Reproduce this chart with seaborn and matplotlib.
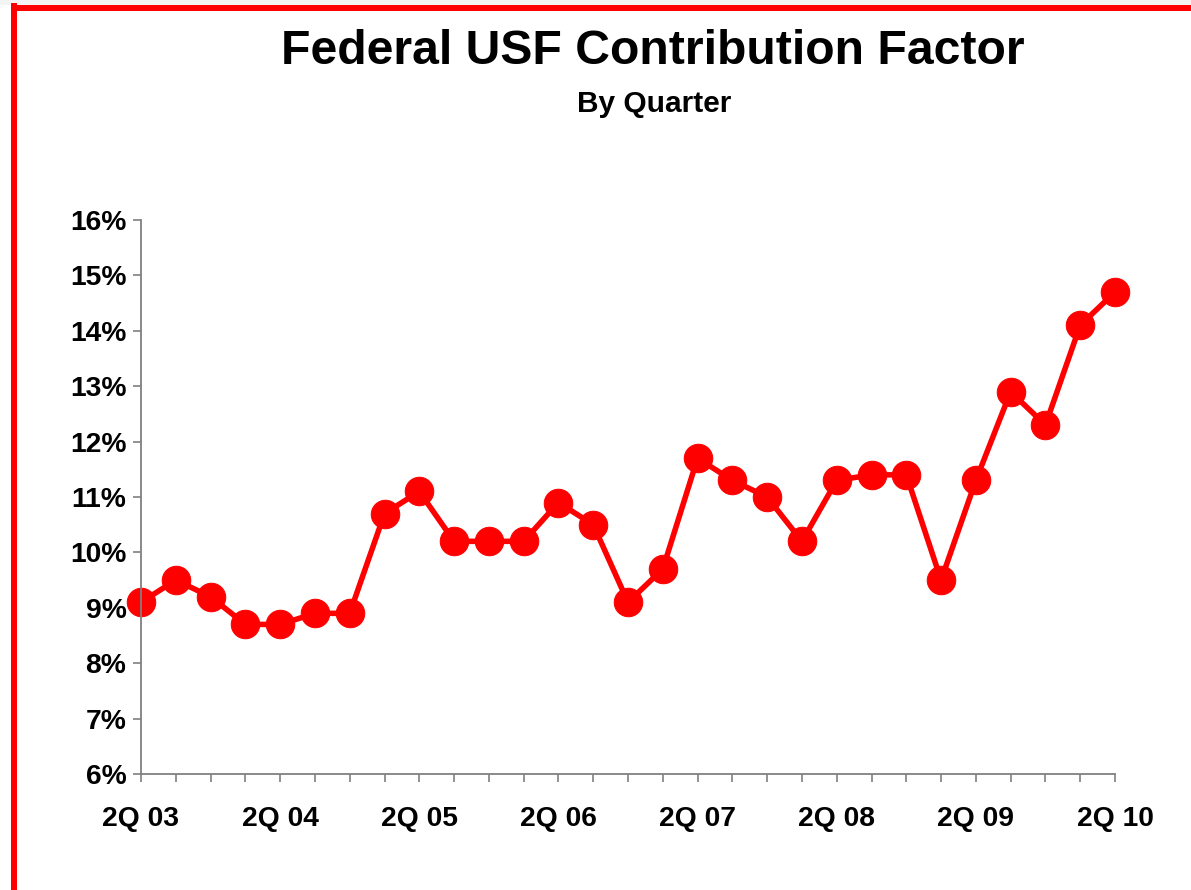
import matplotlib
matplotlib.use("Agg")
import matplotlib.pyplot as plt
import seaborn as sns
import pandas as pd
from matplotlib.ticker import PercentFormatter
from matplotlib.lines import Line2D
from matplotlib.patches import Rectangle

quarters = ["2Q 03", "3Q 03", "4Q 03", "1Q 04", "2Q 04", "3Q 04", "4Q 04",
            "1Q 05", "2Q 05", "3Q 05", "4Q 05", "1Q 06", "2Q 06", "3Q 06",
            "4Q 06", "1Q 07", "2Q 07", "3Q 07", "4Q 07", "1Q 08", "2Q 08",
            "3Q 08", "4Q 08", "1Q 09", "2Q 09", "3Q 09", "4Q 09", "1Q 10", "2Q 10"]
factor = [9.1, 9.5, 9.2, 8.7, 8.7, 8.9, 8.9,
          10.7, 11.1, 10.2, 10.2, 10.2, 10.9, 10.5,
          9.1, 9.7, 11.7, 11.3, 11.0, 10.2, 11.3,
          11.4, 11.4, 9.5, 11.3, 12.9, 12.3, 14.1, 14.7]
y_ticks = [6, 7, 8, 9, 10, 11, 12, 13, 14, 15, 16]

sns.set_theme(style="white")
plt.rcParams['font.family'] = ['Liberation Sans', 'DejaVu Sans']

df = pd.DataFrame({"pos": range(len(quarters)), "factor": factor})

fig = plt.figure(figsize=(11.91, 8.90), dpi=100)
ax = fig.add_axes([141/1191, 1 - 774/890, (1115 - 141)/1191, (774 - 220)/890])

sns.lineplot(data=df, x="pos", y="factor", ax=ax, color="#ff0000",
             linewidth=4.0, marker="o", markersize=20.5,
             markeredgecolor="#ff0000", markerfacecolor="#ff0000", clip_on=False)

ax.set_xlim(0, len(quarters) - 1)
ax.set_ylim(y_ticks[0], y_ticks[-1])
ax.set_yticks(y_ticks)
ax.yaxis.set_major_formatter(PercentFormatter(decimals=0))
ax.set_xticks(range(len(quarters)))
ax.set_xticklabels([q if i % 4 == 0 else "" for i, q in enumerate(quarters)])
ax.set_xlabel("")
ax.set_ylabel("")

for s in ["top", "right"]:
    ax.spines[s].set_visible(False)
for s in ["left", "bottom"]:
    ax.spines[s].set_color("#808080")
    ax.spines[s].set_linewidth(1.3)

ax.tick_params(axis="both", which="major", direction="out", length=6, width=1.2,
               color="#808080", labelsize=20.3, labelcolor="black",
               bottom=True, left=True)
ax.tick_params(axis="x", pad=17)
ax.tick_params(axis="y", pad=4.5)
for lbl in ax.get_xticklabels() + ax.get_yticklabels():
    lbl.set_fontweight("bold")

fig.text(653/1191, 1 - 52/890, "Federal USF Contribution Factor", ha="center", va="center",
         fontsize=34.7, fontweight="bold", color="black")
fig.text(654/1191, 1 - 104/890, "By Quarter", ha="center", va="center",
         fontsize=21.5, fontweight="bold", color="black")

# light top strip and red frame
fig.patches.append(Rectangle((0, 1 - 5/890), 1, 5/890, transform=fig.transFigure,
                             facecolor="#f4f4f4", edgecolor="none", zorder=0))
fig.lines.append(Line2D([13.5/1191, 13.5/1191], [0, 1 - 5.5/890], transform=fig.transFigure,
                        color="#ff0000", linewidth=4.3, solid_capstyle="projecting"))
fig.lines.append(Line2D([11/1191, 1], [1 - 8/890, 1 - 8/890], transform=fig.transFigure,
                        color="#ff0000", linewidth=4.3, solid_capstyle="butt"))

fig.savefig("out.png", dpi=100)
